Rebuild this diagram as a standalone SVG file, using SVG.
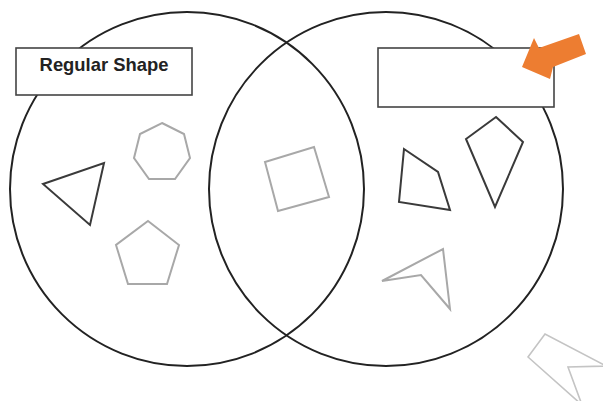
<svg xmlns="http://www.w3.org/2000/svg" width="603" height="401" viewBox="0 0 603 401">
<style>
.circ{fill:none;stroke:#222;stroke-width:2}
.box{fill:#fff;stroke:#444;stroke-width:1.6}
.dark{fill:none;stroke:#3a3a3a;stroke-width:2;stroke-linejoin:miter}
.gray{fill:none;stroke:#a8a8a8;stroke-width:2}
.light{fill:none;stroke:#c4c4c4;stroke-width:1.6}
.lbl{font-family:"Liberation Sans",Arial,sans-serif;font-weight:bold;font-size:18.4px;fill:#222}
</style>
<rect width="603" height="401" fill="#fff"/>
<g id="venn">
<circle class="circ" cx="187" cy="189" r="177"/>
<circle class="circ" cx="386" cy="189" r="177"/>
</g>
<g id="label-regular">
<rect class="box" x="16" y="48" width="176" height="47"/>
<text class="lbl" x="104" y="71" text-anchor="middle">Regular Shape</text>
</g>
<g id="label-blank">
<rect class="box" x="378" y="48" width="176" height="59"/>
</g>
<g id="arrow">
<polygon fill="#ED7D31" points="522,67 534,38 539,48 579,34 586,54 553,67 550,79"/>
</g>
<g id="shapes">
<polygon id="triangle" class="dark" points="43,184 104,163 90,225"/>
<polygon id="heptagon" class="gray" points="162,123 184,134 190,158 175,179 149,179 134,158 140,134"/>
<polygon id="pentagon" class="gray" points="148,221 179,245 167,284 128,284 116,245"/>
<polygon id="square" class="gray" points="265,162 314,147 329,197 278,211"/>
<polygon id="quad" class="dark" points="404,149 438,172 450,210 399,202"/>
<polygon id="kite" class="dark" points="496,117 523,142 495,207 466,139"/>
<polygon id="dart" class="gray" points="382,281 443,249 450,309 421,275"/>
<polygon id="chevron" class="light" points="528,357 545,334 606,366 568,367 582,405"/>
</g>
</svg>
